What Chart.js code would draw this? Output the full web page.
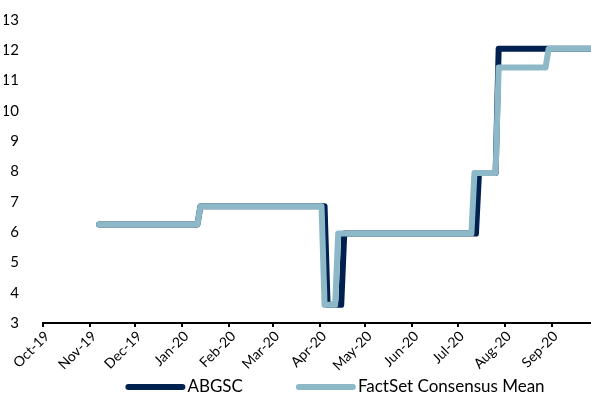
<!DOCTYPE html>
<html>
<head>
<meta charset="utf-8">
<script src="https://cdn.jsdelivr.net/npm/chart.js@4.4.1/dist/chart.umd.min.js"></script>
<style>
  html, body { margin: 0; padding: 0; background: #fff; }
  #wrap { width: 591px; height: 398px; }
</style>
</head>
<body>
<div id="wrap"><canvas id="c" width="591" height="398"></canvas></div>
<script>
// Days counted from 1 Oct 2019
const monthStarts = [0, 31, 61, 92, 123, 152, 183, 213, 244, 274, 305, 336];
const monthLabels = ['Oct-19', 'Nov-19', 'Dec-19', 'Jan-20', 'Feb-20', 'Mar-20',
                     'Apr-20', 'May-20', 'Jun-20', 'Jul-20', 'Aug-20', 'Sep-20'];

// ABGSC estimate (change points)
const abgscDays   = [37, 102, 104, 186, 188, 197, 199, 286, 288, 299, 301, 362];
const abgscValues = [6.25, 6.25, 6.85, 6.85, 3.6, 3.6, 5.95, 5.95, 7.95, 7.95, 12.05, 12.05];

// FactSet consensus mean (change points)
const factsetDays   = [37, 102, 104, 184, 186, 193, 195, 283, 285, 299, 301, 332, 334, 362];
const factsetValues = [6.25, 6.25, 6.85, 6.85, 3.6, 3.6, 5.95, 5.95, 7.95, 7.95, 11.43, 11.43, 12.05, 12.05];

const yTicks = [3, 4, 5, 6, 7, 8, 9, 10, 11, 12, 13];

const toPoints = (xs, ys) => xs.map((x, i) => ({ x: x, y: ys[i] }));

const NAVY = '#00214f';
const LIGHT = '#8cb8c7';
const FONT = 'Lato, "Open Sans", sans-serif';

// Bottom legend: a thick round-capped line sample followed by the series name
const lineLegend = {
  id: 'lineLegend',
  afterDraw(chart, args, opts) {
    const ctx = chart.ctx;
    const sets = chart.data.datasets.slice().sort((a, b) => a.legendIndex - b.legendIndex);
    ctx.save();
    ctx.font = opts.fontSize + 'px ' + FONT;
    const widths = sets.map(ds => opts.lineLength + opts.textGap + ctx.measureText(ds.label).width);
    const total = widths.reduce((s, w) => s + w, 0) + opts.itemGap * (sets.length - 1);
    let x = opts.centerX - total / 2;
    sets.forEach((ds, i) => {
      ctx.strokeStyle = ds.borderColor;
      ctx.lineWidth = opts.lineWidth;
      ctx.lineCap = 'round';
      ctx.beginPath();
      ctx.moveTo(x + opts.lineWidth / 2, opts.y);
      ctx.lineTo(x + opts.lineLength - opts.lineWidth / 2, opts.y);
      ctx.stroke();
      ctx.fillStyle = '#000';
      ctx.textBaseline = 'middle';
      ctx.textAlign = 'left';
      ctx.fillText(ds.label, x + opts.lineLength + opts.textGap, opts.y);
      x += widths[i] + opts.itemGap;
    });
    ctx.restore();
  }
};

new Chart(document.getElementById('c'), {
  type: 'line',
  data: {
    datasets: [
      {
        label: 'ABGSC',
        legendIndex: 0,
        data: toPoints(abgscDays, abgscValues),
        borderColor: NAVY,
        backgroundColor: NAVY,
        borderWidth: 6,
        pointRadius: 0,
        borderJoinStyle: 'round',
        borderCapStyle: 'round',
        tension: 0,
        order: 2
      },
      {
        label: 'FactSet Consensus Mean',
        legendIndex: 1,
        data: toPoints(factsetDays, factsetValues),
        borderColor: LIGHT,
        backgroundColor: LIGHT,
        borderWidth: 6,
        pointRadius: 0,
        borderJoinStyle: 'round',
        borderCapStyle: 'round',
        tension: 0,
        order: 1
      }
    ]
  },
  plugins: [lineLegend],
  options: {
    responsive: false,
    animation: false,
    layout: { padding: { top: 20, right: 0, left: 4, bottom: 15 } },
    plugins: {
      tooltip: { enabled: false },
      legend: { display: false },
      lineLegend: {
        centerX: 335,
        y: 387,
        fontSize: 17,
        lineLength: 60,
        lineWidth: 6,
        textGap: 2,
        itemGap: 53
      }
    },
    scales: {
      x: {
        type: 'linear',
        min: 0,
        max: 362,
        afterBuildTicks(axis) {
          axis.ticks = monthStarts.map(v => ({ value: v }));
        },
        afterFit(axis) {
          axis.height = 60;
          axis.paddingLeft = 0;
          axis.paddingRight = 0;
        },
        ticks: {
          autoSkip: false,
          minRotation: 45,
          maxRotation: 45,
          padding: 1,
          labelOffset: 4,
          color: '#000',
          font: { family: FONT, size: 14 },
          callback(value) {
            const i = monthStarts.indexOf(value);
            return i >= 0 ? monthLabels[i] : '';
          }
        },
        grid: {
          drawOnChartArea: false,
          drawTicks: true,
          tickLength: 4,
          color: '#000',
          lineWidth: 2
        },
        border: { display: true, color: '#000', width: 2 }
      },
      y: {
        min: 3,
        max: 13,
        afterBuildTicks(axis) {
          axis.ticks = yTicks.map(v => ({ value: v }));
        },
        afterFit(axis) {
          axis.width = 39;
          axis.paddingTop = 0;
          axis.paddingBottom = 0;
        },
        ticks: {
          padding: 16,
          color: '#000',
          font: { family: FONT, size: 15 }
        },
        grid: { display: false },
        border: { display: false }
      }
    }
  }
});
</script>
</body>
</html>
